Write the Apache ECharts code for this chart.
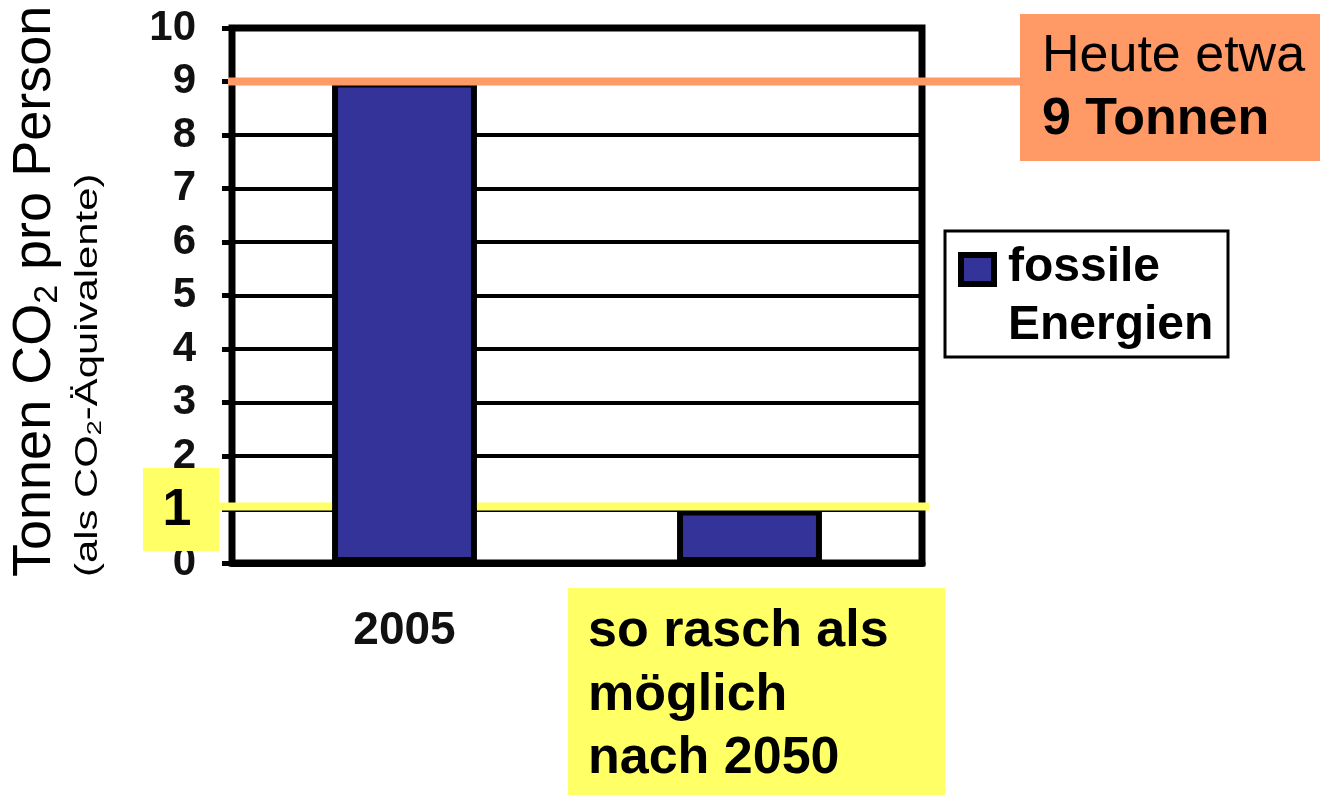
<!DOCTYPE html>
<html>
<head>
<meta charset="utf-8">
<script src="https://cdn.jsdelivr.net/npm/echarts@6/dist/echarts.min.js"></script>
<style>
  html, body { margin: 0; padding: 0; background: #fff; }
  #chart { width: 1324px; height: 795px; }
</style>
</head>
<body>
<div id="chart"></div>
<script>
// data
const categories = ['2005', ''];
const fossilValues = [9, 1];
const seriesName = 'fossile Energien';
const todayLevel = 9;
const targetLevel = 1;
const todayText = ['Heute etwa', '9 Tonnen'];
const targetText = ['so rasch als', 'möglich', 'nach 2050'];
const legendLines = ['fossile', 'Energien'];

const barColor = '#333399';
const orange = '#FF9966';
const yellow = '#FFFF66';
const font = 'Arial, "Liberation Sans", sans-serif';
const barShare = 0.42;

const chart = echarts.init(document.getElementById('chart'));

chart.setOption({
  animation: false,
  backgroundColor: '#fff',
  grid: {
    left: 232, top: 28, right: 402, bottom: 232,
    show: true, borderColor: '#000', borderWidth: 7
  },
  xAxis: {
    type: 'category',
    data: categories,
    axisLine: { lineStyle: { color: '#000', width: 7 } },
    axisTick: { length: 14, lineStyle: { color: '#000', width: 5 } },
    axisLabel: { margin: 45, fontFamily: font, fontWeight: 'bold', fontSize: 46, color: '#111' }
  },
  yAxis: {
    type: 'value',
    min: 0, max: 10, interval: 1,
    axisLine: { show: true, lineStyle: { color: '#000', width: 6 } },
    axisTick: { show: true, length: 10, lineStyle: { color: '#000', width: 5 } },
    splitLine: { lineStyle: { color: '#000', width: 4 } },
    axisLabel: { margin: 36, fontFamily: font, fontWeight: 'bold', fontSize: 42, color: '#111' }
  },
  series: [{
    name: seriesName,
    type: 'bar',
    data: fossilValues,
    barWidth: (barShare * 100) + '%',
    itemStyle: { color: barColor, borderColor: '#000', borderWidth: 6 }
  }]
});

// annotation positions from the axes
const y9 = chart.convertToPixel({ yAxisIndex: 0 }, todayLevel);
const y1 = chart.convertToPixel({ yAxisIndex: 0 }, targetLevel);
const xa = chart.convertToPixel({ xAxisIndex: 0 }, 0);
const xb = chart.convertToPixel({ xAxisIndex: 0 }, 1);
const half = (xb - xa) * barShare / 2;

const rich = (size, bold, lh) => ({
  fontSize: size, fontFamily: font, fontWeight: bold ? 'bold' : 'normal',
  lineHeight: lh, fill: '#000'
});

chart.setOption({
  graphic: [
    // y axis title, two rotated lines
    {
      type: 'text', x: 35, y: 577, rotation: Math.PI / 2, z: 50,
      style: {
        text: '{m|Tonnen CO}{s|2}{m| pro Person}',
        align: 'left', verticalAlign: 'middle',
        rich: { m: rich(54, false, 60), s: Object.assign(rich(34, false, 22), { verticalAlign: 'bottom' }) }
      }
    },
    {
      type: 'text', x: 88, y: 577, rotation: Math.PI / 2, scaleX: 1.35, z: 50,
      style: {
        text: '{m|(als CO}{s|2}{m|-Äquivalente)}',
        align: 'left', verticalAlign: 'middle',
        rich: { m: rich(31, false, 34), s: Object.assign(rich(20, false, 12), { verticalAlign: 'bottom' }) }
      }
    },
    // today level
    { type: 'line', z: 100, shape: { x1: 228, y1: y9, x2: 1020, y2: y9 }, style: { stroke: orange, lineWidth: 8 } },
    { type: 'rect', z: 100, shape: { x: 1020, y: 14, width: 300, height: 147 }, style: { fill: orange } },
    {
      type: 'text', x: 1042, y: 25, z: 101,
      style: {
        text: '{a|' + todayText[0] + '}\n{b|' + todayText[1] + '}',
        align: 'left', verticalAlign: 'top',
        rich: { a: rich(52, false, 63), b: rich(52, true, 63) }
      }
    },
    // target level
    { type: 'line', z: 100, shape: { x1: 218, y1: y1 - 3, x2: xa - half, y2: y1 - 3 }, style: { stroke: yellow, lineWidth: 8 } },
    { type: 'line', z: 100, shape: { x1: xa + half, y1: y1 - 3, x2: 929, y2: y1 - 3 }, style: { stroke: yellow, lineWidth: 8 } },
    { type: 'rect', z: 100, shape: { x: 143, y: 468, width: 76, height: 83 }, style: { fill: yellow } },
    {
      type: 'text', x: 177, y: 511, z: 101,
      style: { text: String(targetLevel), align: 'center', verticalAlign: 'middle', fontSize: 52, fontWeight: 'bold', fontFamily: font, fill: '#000' }
    },
    { type: 'rect', z: 100, shape: { x: 568, y: 588, width: 377, height: 207 }, style: { fill: yellow } },
    {
      type: 'text', x: 588, y: 600, z: 101,
      style: {
        text: targetText.map(t => '{b|' + t + '}').join('\n'),
        align: 'left', verticalAlign: 'top',
        rich: { b: rich(52, true, 63.5) }
      }
    },
    // legend box
    { type: 'rect', z: 100, shape: { x: 945, y: 231, width: 283, height: 126 }, style: { fill: '#fff', stroke: '#000', lineWidth: 3 } },
    { type: 'rect', z: 101, shape: { x: 961, y: 255, width: 33, height: 29 }, style: { fill: barColor, stroke: '#000', lineWidth: 6 } },
    {
      type: 'text', x: 1008, y: 239, z: 101,
      style: {
        text: legendLines.map(t => '{b|' + t + '}').join('\n'),
        align: 'left', verticalAlign: 'top',
        rich: { b: rich(48, true, 58) }
      }
    }
  ]
});
</script>
</body>
</html>
